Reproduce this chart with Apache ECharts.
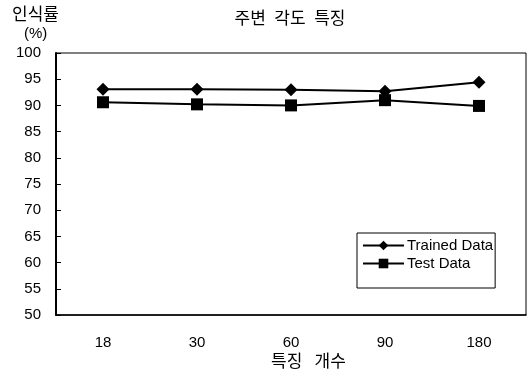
<!DOCTYPE html>
<html>
<head>
<meta charset="utf-8">
<script src="https://cdn.jsdelivr.net/npm/echarts@6/dist/echarts.min.js"></script>
<style>
  html, body { margin: 0; padding: 0; background: #fff; }
  #chart { width: 532px; height: 380px; }
</style>
</head>
<body>
<div id="chart"></div>
<script>
// Feature counts on the x axis and recognition rates (%) per series
const categories = ['18', '30', '60', '90', '180'];
const trainedData = [93.1, 93.1, 93.0, 92.7, 94.4];
const testData = [90.6, 90.2, 90.0, 91.0, 89.9];

const FONT = '"Liberation Sans", Arial, "Noto Sans CJK KR", sans-serif';
const KFONT = '"Noto Sans CJK KR", "Liberation Sans", sans-serif';

const chart = echarts.init(document.getElementById('chart'), null, { renderer: 'canvas' });

chart.setOption({
  animation: false,
  backgroundColor: '#fff',
  title: {
    text: '주변\u2002각도\u2002특징',
    left: 285,
    textAlign: 'center',
    top: 4,
    textStyle: { fontFamily: KFONT, fontSize: 17, fontWeight: 'normal', color: '#000' }
  },
  graphic: [
    {
      type: 'text', left: 12, top: 5,
      style: { text: '인식률', font: '17px ' + KFONT, fill: '#000' }
    },
    {
      type: 'text', left: 24, top: 26,
      style: { text: '(%)', font: '15px ' + FONT, fill: '#000' }
    },
    {
      type: 'text', left: 271, top: 352,
      style: { text: '특징\u2002 개수', font: '17px ' + KFONT, fill: '#000' }
    }
  ],
  grid: {
    left: 56, right: 6, top: 53, bottom: 65,
    show: true, borderColor: '#000', borderWidth: 1, backgroundColor: 'transparent'
  },
  legend: {
    orient: 'vertical',
    left: 357, top: 233,
    itemWidth: 41, itemHeight: 12, itemGap: 3,
    padding: [5, 2, 17, 5],
    borderColor: '#000', borderWidth: 1,
    backgroundColor: '#fff',
    textStyle: { fontFamily: FONT, fontSize: 15, color: '#000', padding: [0, 0, 0, -2] },
    data: ['Trained Data', 'Test Data']
  },
  xAxis: {
    type: 'category',
    data: categories,
    boundaryGap: true,
    axisLine: { lineStyle: { color: '#000', width: 1.5 } },
    axisTick: { inside: true, length: 5, lineStyle: { color: '#000' } },
    axisLabel: { color: '#000', fontFamily: FONT, fontSize: 15, margin: 20 },
    splitLine: { show: false }
  },
  yAxis: {
    type: 'value',
    min: 50, max: 100, interval: 5,
    axisLine: { show: true, lineStyle: { color: '#000', width: 2 } },
    axisTick: { show: true, inside: true, length: 5, lineStyle: { color: '#000' } },
    axisLabel: { color: '#000', fontFamily: FONT, fontSize: 15, margin: 15 },
    splitLine: { show: false }
  },
  series: [
    {
      name: 'Trained Data',
      type: 'line',
      data: trainedData,
      symbol: 'diamond',
      symbolSize: [13, 13],
      color: '#000',
      lineStyle: { color: '#000', width: 2 },
      itemStyle: { color: '#000' }
    },
    {
      name: 'Test Data',
      type: 'line',
      data: testData,
      symbol: 'rect',
      symbolSize: [12, 12],
      color: '#000',
      lineStyle: { color: '#000', width: 2 },
      itemStyle: { color: '#000' }
    }
  ]
});
</script>
</body>
</html>
